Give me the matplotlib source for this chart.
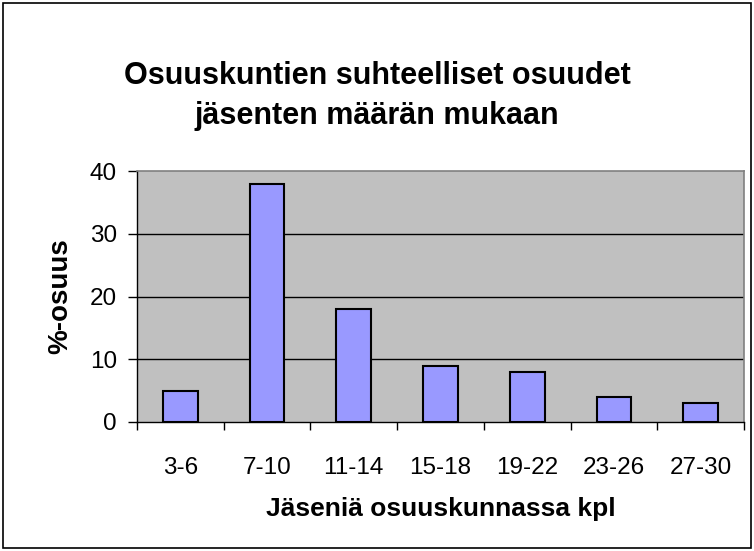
import matplotlib
matplotlib.use('Agg')
import matplotlib.pyplot as plt
import numpy as np

# Data
categories = ['3-6', '7-10', '11-14', '15-18', '19-22', '23-26', '27-30']
shares = [5, 38, 18, 9, 8, 4, 3]
y_ticks = [0, 10, 20, 30, 40]

title = 'Osuuskuntien suhteelliset osuudet\njäsenten määrän mukaan'
xlabel = 'Jäseniä osuuskunnassa kpl'
ylabel = '%-osuus'

plt.rcParams['font.family'] = ['Liberation Sans', 'DejaVu Sans']

fig = plt.figure(figsize=(7.54, 5.51), dpi=100, facecolor='white')
ax = fig.add_axes([137 / 754, 1 - 422 / 551, (744 - 137) / 754, (422 - 171) / 551])
ax.set_facecolor('#C0C0C0')

x = np.arange(len(categories))
ax.bar(x, shares, width=0.4, color='#9999FF', edgecolor='black', linewidth=1.5, zorder=3)

ax.set_xlim(-0.5, len(categories) - 0.5)
ax.set_ylim(0, 40)
ax.set_yticks(y_ticks)
ax.tick_params(axis='y', labelsize=17.5, direction='out', length=6.5, width=1, pad=8)
for v in y_ticks[1:-1]:
    ax.axhline(v, color='black', linewidth=1, zorder=1)

ax.set_xticks(x)
ax.set_xticklabels(categories, fontsize=17.5)
ax.tick_params(axis='x', length=0, pad=25)
ax.set_xticks(np.arange(len(categories) + 1) - 0.5, minor=True)
ax.tick_params(axis='x', which='minor', direction='out', length=6, width=1)

for s in ['top', 'right']:
    ax.spines[s].set_color('#808080')
    ax.spines[s].set_linewidth(1.2)
for s in ['left', 'bottom']:
    ax.spines[s].set_color('black')
    ax.spines[s].set_linewidth(1)

ax.set_xlabel(xlabel, fontsize=19, fontweight='bold', labelpad=13)
ax.set_ylabel(ylabel, fontsize=20, fontweight='bold', labelpad=12)

fig.text(0.5, 1 - 96 / 551, title, ha='center', va='center', fontsize=22,
         fontweight='bold', linespacing=1.45)

# outer frame
fig.patches.append(plt.Rectangle((3 / 754, 3 / 551), 748 / 754, 545 / 551,
                                 transform=fig.transFigure, fill=False,
                                 edgecolor='black', linewidth=1.2))

plt.savefig('out.png', dpi=100, facecolor='white')
